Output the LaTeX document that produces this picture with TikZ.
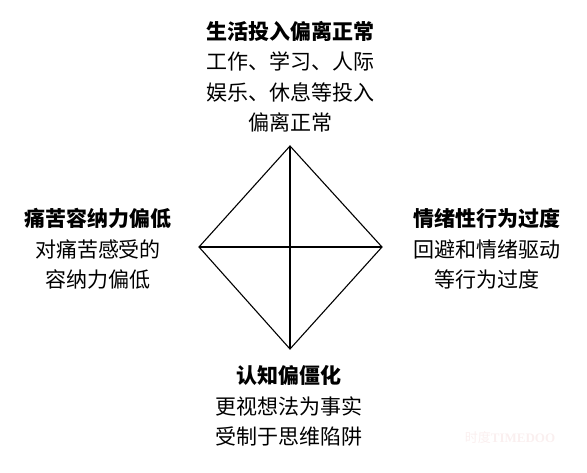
\documentclass[tikz,border=0pt]{standalone}
\usepackage{fontspec}
\setmainfont{Noto Sans CJK SC}
\newfontfamily\wmfont{Liberation Serif}
\usepackage{xcolor}
\definecolor{wmcolor}{HTML}{FAEFEF}
\tikzset{
	lbl/.style={align=center, inner sep=0pt, font=\fontsize{21}{30.5}\selectfont},
	edge/.style={line width=1.1pt, line join=miter}
}

\begin{document}
\begin{tikzpicture}[x=1pt, y=1pt]
	\useasboundingbox (0,0) rectangle (587,472);
	% diamond corners
	\coordinate (top) at (290,326);
	\coordinate (left) at (199,225);
	\coordinate (right) at (382,225);
	\coordinate (bottom) at (290,123);
	\draw[edge] (top) -- (right) -- (bottom) -- (left) -- cycle;
	\draw[edge] (top) -- (bottom);
	\draw[edge] (left) -- (right);
	% labels
	\node[lbl] (life) at (290,395.5) {\textbf{生活投入偏离正常}\\工作、学习、人际\\娱乐、休息等投入\\偏离正常};
	\node[lbl] (pain) at (98,223) {\textbf{痛苦容纳力偏低}\\对痛苦感受的\\容纳力偏低};
	\node[lbl] (emo) at (487,223) {\textbf{情绪性行为过度}\\回避和情绪驱动\\等行为过度};
	\node[lbl] (cog) at (289,66) {\textbf{认知偏僵化}\\更视想法为事实\\受制于思维陷阱};
	% watermark
	\node[inner sep=0pt, text=wmcolor, font=\fontsize{13}{13}\selectfont] (mark) at (510,34.5) {时度{\wmfont\bfseries TIMEDOO}};
\end{tikzpicture}
\end{document}
